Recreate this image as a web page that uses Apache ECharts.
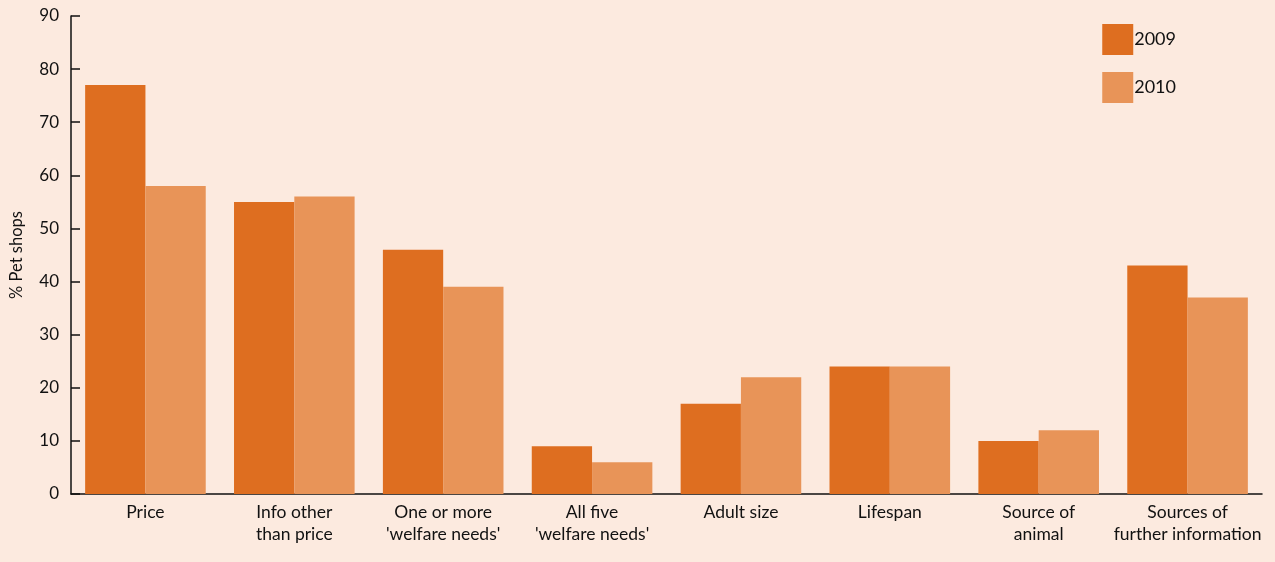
<!DOCTYPE html>
<html><head><meta charset="utf-8">
<script src="https://cdn.jsdelivr.net/npm/echarts@6/dist/echarts.min.js"></script>
<style>html,body{margin:0;padding:0;background:#FCEADF;}#c{width:1275px;height:562px;}</style>
</head><body><div id="c"></div>
<script>
const categories = ["Price", "Info other\nthan price", "One or more\n'welfare needs'", "All five\n'welfare needs'", "Adult size", "Lifespan", "Source of\nanimal", "Sources of\nfurther information"];
const values2009 = [77, 55, 46, 9, 17, 24, 10, 43];
const values2010 = [58, 56, 39, 6, 22, 24, 12, 37];
const seriesNames = ["2009", "2010"];
const FONT = "Lato, 'Open Sans', sans-serif";
const chart = echarts.init(document.getElementById('c'));
chart.setOption({
  backgroundColor: '#FCEADF',
  animation: false,
  grid: {left: 70, right: 13, top: 16, bottom: 68, containLabel: false},
  legend: {
    orient: 'vertical', right: 99, top: 24, padding: 0, itemWidth: 31, itemHeight: 31, itemGap: 17,
    icon: 'rect',
    textStyle: {fontSize: 18, color: '#111', fontFamily: FONT, padding: [6,0,0,-4]},
    data: seriesNames
  },
  xAxis: {
    type: 'category', data: categories,
    axisLine: {lineStyle: {color: '#111', width: 1.5}},
    axisTick: {inside: true, length: 9, interval: 0, lineStyle: {color: '#111', width: 1.5}},
    axisLabel: {interval: 0, fontSize: 17.5, color: '#111', fontFamily: FONT, lineHeight: 22, margin: 7}
  },
  yAxis: {
    type: 'value', min: 0, max: 90, interval: 10,
    name: '% Pet shops', nameLocation: 'middle', nameGap: 46, nameRotate: 90,
    nameTextStyle: {fontSize: 16.5, color: '#111', fontFamily: FONT},
    axisLine: {show: true, lineStyle: {color: '#111', width: 1.5}},
    axisTick: {show: true, inside: true, length: 9, lineStyle: {color: '#111', width: 1.5}},
    axisLabel: {fontSize: 17, color: '#111', fontFamily: FONT, margin: 12},
    splitLine: {show: false}
  },
  series: [
    {name: seriesNames[0], type: 'bar', data: values2009, itemStyle: {color: '#DE6E20'}, barGap: '0%', barCategoryGap: '19%'},
    {name: seriesNames[1], type: 'bar', data: values2010, itemStyle: {color: '#E89458'}, barGap: '0%', barCategoryGap: '19%'}
  ]
});
</script></body></html>
